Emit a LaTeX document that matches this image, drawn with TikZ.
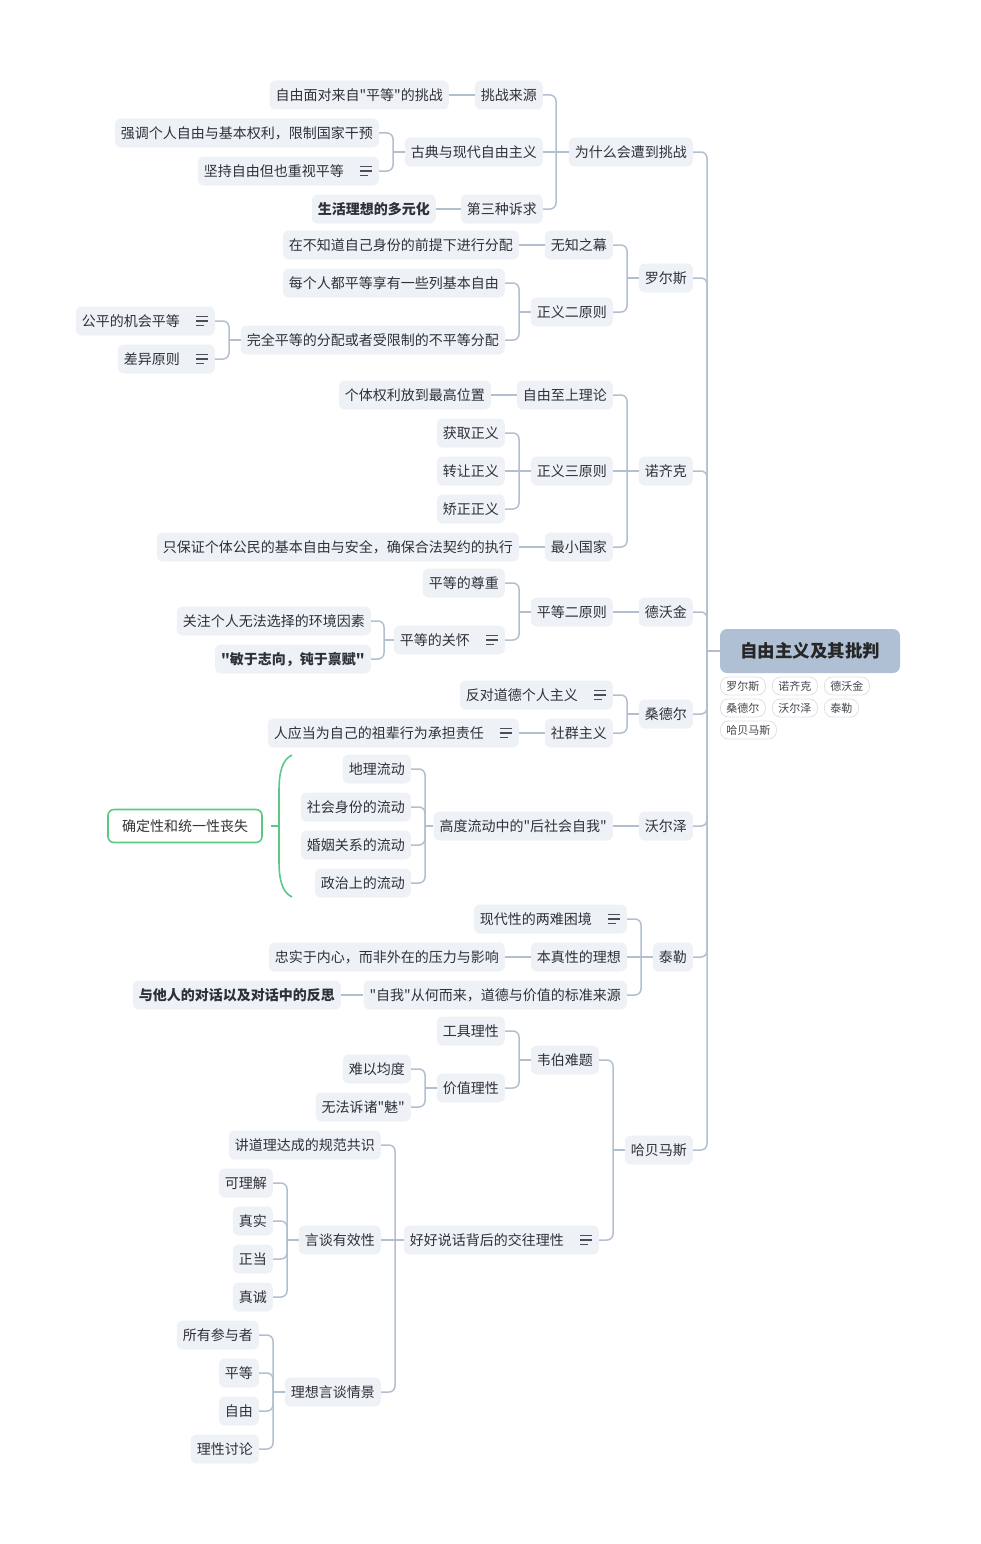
\documentclass[tikz,border=0pt]{standalone}
\usepackage{fontspec}
\newfontfamily\cn{Noto Sans CJK SC}
\usetikzlibrary{calc}

\definecolor{nodefill}{HTML}{EEF1F5}
\definecolor{linkcol}{HTML}{B1BFD1}
\definecolor{rootfill}{HTML}{AFC0D5}
\definecolor{txt}{HTML}{2E3238}
\definecolor{tagborder}{HTML}{DDE1E6}
\definecolor{sumgreen}{HTML}{5BC884}
\definecolor{icongray}{HTML}{4A4E55}

\tikzset{
  topic/.style={fill=nodefill, rounded corners=6pt, minimum height=29pt,
    inner xsep=6pt, inner ysep=0pt, text=txt, anchor=east,
    font=\cn\fontsize{14}{16}\selectfont},
  strong/.style={topic, font=\cn\fontsize{14}{16}\selectfont\bfseries},
  rootnode/.style={fill=rootfill, rounded corners=7pt, minimum width=180pt,
    minimum height=44pt, inner sep=0pt, text=black!85,
    font=\cn\fontsize{17.5}{20}\selectfont\bfseries},
  tagnode/.style={fill=white, draw=tagborder, line width=0.8pt, rounded corners=8pt,
    minimum height=18pt, inner xsep=6pt, inner ysep=0pt, anchor=west,
    text=txt!90, font=\cn\fontsize{11}{13}\selectfont},
  summary/.style={fill=white, draw=sumgreen, line width=1.6pt, rounded corners=6pt,
    minimum width=154pt, minimum height=33pt, inner sep=0pt, text=black!80,
    font=\cn\fontsize{14}{16}\selectfont},
  linkline/.style={draw=linkcol, line width=1.5pt, rounded corners=6pt},
  stubline/.style={draw=linkcol, line width=1.5pt},
  iconline/.style={draw=icongray, line width=1.1pt},
}

% child-to-parent connector through a vertical bar at x = #3
\newcommand{\lk}[3]{\draw[linkline] (#1.east) -- (#3,0 |- #1.east) -- (#3,0 |- #2.west);
  \draw[stubline] (#3,0 |- #2.west) -- (#2.west);}
% straight connector between topics on the same line
\newcommand{\ls}[2]{\draw[stubline] (#1.east) -- (#2.west);}
% note marker drawn at the right end of a topic
\newcommand{\noteicon}[1]{\draw[iconline] ($(#1.east)+(-19,-4.5)$) -- ++(12,0)
  ($(#1.east)+(-19,0)$) -- ++(12,0) ($(#1.east)+(-19,4.5)$) -- ++(8,0);}
\newcommand{\ic}{\rule{29pt}{0pt}}

\begin{document}
\begin{tikzpicture}[x=1pt,y=-1pt]
\useasboundingbox (0,0) rectangle (980,1544);

% central topic and its tags
\node[rootnode] (root) at (810,651) {自由主义及其批判};
\node[tagnode] (t1) at (720,686) {罗尔斯};
\node[tagnode] (t2) at (772,686) {诺齐克};
\node[tagnode] (t3) at (824,686) {德沃金};
\node[tagnode] (t4) at (720,708) {桑德尔};
\node[tagnode] (t5) at (772,708) {沃尔泽};
\node[tagnode] (t6) at (824,708) {泰勒};
\node[tagnode] (t7) at (720,730) {哈贝马斯};

% main branches
\node[topic] (A) at (693,152) {为什么会遭到挑战};
\node[topic] (B) at (693,278) {罗尔斯};
\node[topic] (C) at (693,471) {诺齐克};
\node[topic] (D) at (693,612) {德沃金};
\node[topic] (E) at (693,714) {桑德尔};
\node[topic] (F) at (693,826) {沃尔泽};
\node[topic] (G) at (693,957) {泰勒};
\node[topic] (H) at (693,1150) {哈贝马斯};
\foreach \n in {A,B,C,D,E,F,G,H} {\lk{\n}{root}{707}}

% why challenged
\node[topic] (A1) at (543,95) {挑战来源};
\node[topic] (A2) at (543,152) {古典与现代自由主义};
\node[topic] (A3) at (543,209) {第三种诉求};
\lk{A1}{A}{556}
\ls{A2}{A}
\lk{A3}{A}{556}
\node[topic] (A1a) at (449,95) {自由面对来自"平等"的挑战};
\ls{A1a}{A1}
\node[topic] (A2a) at (379,133) {强调个人自由与基本权利，限制国家干预};
\node[topic] (A2b) at (379,171) {坚持自由但也重视平等\ic};
\noteicon{A2b}
\lk{A2a}{A2}{393}
\lk{A2b}{A2}{393}
\node[strong] (A3a) at (436,209) {生活理想的多元化};
\ls{A3a}{A3}

% Rawls
\node[topic] (B1) at (613,245) {无知之幕};
\node[topic] (B2) at (613,312) {正义二原则};
\lk{B1}{B}{627}
\lk{B2}{B}{627}
\node[topic] (B1a) at (519,245) {在不知道自己身份的前提下进行分配};
\ls{B1a}{B1}
\node[topic] (B2a) at (505,283) {每个人都平等享有一些列基本自由};
\node[topic] (B2b) at (505,340) {完全平等的分配或者受限制的不平等分配};
\lk{B2a}{B2}{519}
\lk{B2b}{B2}{519}
\node[topic] (B2b1) at (215,321) {公平的机会平等\ic};
\node[topic] (B2b2) at (215,359) {差异原则\ic};
\noteicon{B2b1}
\noteicon{B2b2}
\lk{B2b1}{B2b}{229}
\lk{B2b2}{B2b}{229}

% Nozick
\node[topic] (C1) at (613,395) {自由至上理论};
\node[topic] (C2) at (613,471) {正义三原则};
\node[topic] (C3) at (613,547) {最小国家};
\lk{C1}{C}{627}
\ls{C2}{C}
\lk{C3}{C}{627}
\node[topic] (C1a) at (491,395) {个体权利放到最高位置};
\ls{C1a}{C1}
\node[topic] (C2a) at (505,433) {获取正义};
\node[topic] (C2b) at (505,471) {转让正义};
\node[topic] (C2c) at (505,509) {矫正正义};
\lk{C2a}{C2}{519}
\ls{C2b}{C2}
\lk{C2c}{C2}{519}
\node[topic] (C3a) at (519,547) {只保证个体公民的基本自由与安全，确保合法契约的执行};
\ls{C3a}{C3}

% Dworkin
\node[topic] (D1) at (613,612) {平等二原则};
\ls{D1}{D}
\node[topic] (D1a) at (505,583) {平等的尊重};
\node[topic] (D1b) at (505,640) {平等的关怀\ic};
\noteicon{D1b}
\lk{D1a}{D1}{519}
\lk{D1b}{D1}{519}
\node[topic] (D1b1) at (371,621) {关注个人无法选择的环境因素};
\node[strong] (D1b2) at (371,659) {"敏于志向，钝于禀赋"};
\lk{D1b1}{D1b}{384}
\lk{D1b2}{D1b}{384}

% Sandel
\node[topic] (E1) at (613,695) {反对道德个人主义\ic};
\node[topic] (E2) at (613,733) {社群主义};
\noteicon{E1}
\lk{E1}{E}{627}
\lk{E2}{E}{627}
\node[topic] (E2a) at (519,733) {人应当为自己的祖辈行为承担责任\ic};
\noteicon{E2a}
\ls{E2a}{E2}

% Walzer
\node[topic] (F1) at (613,826) {高度流动中的"后社会自我"};
\ls{F1}{F}
\node[topic] (F1a) at (411,769) {地理流动};
\node[topic] (F1b) at (411,807) {社会身份的流动};
\node[topic] (F1c) at (411,845) {婚姻关系的流动};
\node[topic] (F1d) at (411,883) {政治上的流动};
\foreach \n in {F1a,F1b,F1c,F1d} {\lk{\n}{F1}{425}}
% summary brace over the four kinds of mobility
\node[summary] (Fs) at (185,826) {确定性和统一性丧失};
\coordinate (braceTop) at (292,755);
\coordinate (braceBot) at (292,897);
\coordinate (braceMid) at (279,826);
\draw[sumgreen, line width=1.6pt] (braceTop) .. controls (282,760) and (279,772) .. (279,792)
  -- (279,860) .. controls (279,880) and (282,892) .. (braceBot);
\draw[sumgreen, line width=1.6pt] (braceMid) -- (Fs.east -| 271,0);

% Taylor
\node[topic] (G1) at (627,919) {现代性的两难困境\ic};
\node[topic] (G2) at (627,957) {本真性的理想};
\node[topic] (G3) at (627,995) {"自我"从何而来，道德与价值的标准来源};
\noteicon{G1}
\lk{G1}{G}{641}
\ls{G2}{G}
\lk{G3}{G}{641}
\node[topic] (G2a) at (505,957) {忠实于内心，而非外在的压力与影响};
\ls{G2a}{G2}
\node[strong] (G3a) at (341,995) {与他人的对话以及对话中的反思};
\ls{G3a}{G3}

% Habermas
\node[topic] (H1) at (599,1060) {韦伯难题};
\node[topic] (H2) at (599,1240) {好好说话背后的交往理性\ic};
\noteicon{H2}
\lk{H1}{H}{613}
\lk{H2}{H}{613}
\node[topic] (H1a) at (505,1031) {工具理性};
\node[topic] (H1b) at (505,1088) {价值理性};
\lk{H1a}{H1}{519}
\lk{H1b}{H1}{519}
\node[topic] (H1b1) at (411,1069) {难以均度};
\node[topic] (H1b2) at (411,1107) {无法诉诸"魅"};
\lk{H1b1}{H1b}{425}
\lk{H1b2}{H1b}{425}
\node[topic] (H2a) at (381,1145) {讲道理达成的规范共识};
\node[topic] (H2b) at (381,1240) {言谈有效性};
\node[topic] (H2c) at (381,1392) {理想言谈情景};
\lk{H2a}{H2}{395}
\ls{H2b}{H2}
\lk{H2c}{H2}{395}
\node[topic] (V1) at (273,1183) {可理解};
\node[topic] (V2) at (273,1221) {真实};
\node[topic] (V3) at (273,1259) {正当};
\node[topic] (V4) at (273,1297) {真诚};
\foreach \n in {V1,V2,V3,V4} {\lk{\n}{H2b}{287}}
\node[topic] (S1) at (259,1335) {所有参与者};
\node[topic] (S2) at (259,1373) {平等};
\node[topic] (S3) at (259,1411) {自由};
\node[topic] (S4) at (259,1449) {理性讨论};
\foreach \n in {S1,S2,S3,S4} {\lk{\n}{H2c}{273}}
\end{tikzpicture}
\end{document}
